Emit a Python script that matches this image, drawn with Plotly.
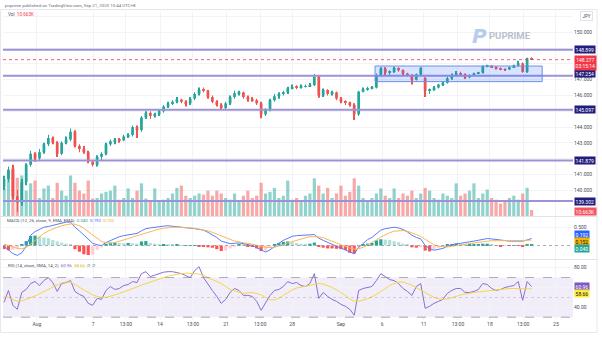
import plotly.graph_objects as go

# ---------------- data ----------------
opens = [140.2, 140.7, 141.3, 139.6, 139.2, 140.5, 141.6, 142.3, 142.0, 142.4,
         142.9, 143.3, 143.0, 142.3, 143.0, 143.2, 143.7, 142.8, 142.6, 142.4,
         141.8, 141.6, 142.1, 142.3, 142.9, 143.1, 143.2, 143.15, 143.4, 143.5,
         144.0, 143.8, 144.6, 144.9, 144.7, 144.8, 145.0, 145.3, 145.5, 145.6,
         145.75, 145.6, 145.5, 145.8, 146.1, 146.35, 146.3, 145.9, 145.6, 145.4,
         145.2, 145.5, 145.9, 146.15, 146.2, 145.9, 145.75, 145.7, 145.5, 144.8,
         145.1, 145.7, 145.95, 146.1, 146.2, 146.45, 146.55, 146.5, 146.55, 146.6,
         146.65, 147.2, 146.0, 146.35, 146.1, 146.2, 145.8, 145.6, 145.55, 145.4,
         144.8, 146.25, 146.4, 146.45, 146.5, 147.3, 147.7, 147.45, 147.5, 147.75,
         147.6, 147.4, 147.3, 147.0, 147.35, 147.1, 146.3, 146.35, 146.5, 146.7,
         146.8, 147.1, 147.3, 147.4, 147.35, 147.15, 147.3, 147.4, 147.45, 147.85,
         147.9, 147.8, 147.72, 147.68, 147.65, 147.8, 147.9, 148.05, 147.5, 148.36]
highs = [140.9, 141.5, 141.6, 140.0, 140.7, 141.7, 142.5, 142.4, 142.6, 143.0,
         143.5, 143.4, 143.1, 143.1, 143.4, 143.9, 143.8, 142.9, 142.8, 142.5,
         141.9, 142.2, 142.4, 143.0, 143.2, 143.3, 143.3, 143.5, 143.6, 144.1,
         144.1, 144.7, 145.0, 145.0, 144.9, 145.1, 145.4, 145.6, 145.7, 145.9,
         145.8, 145.7, 145.9, 146.2, 146.5, 146.5, 146.35, 146.0, 145.7, 145.5,
         145.6, 146.0, 146.3, 146.3, 146.25, 146.0, 145.9, 145.8, 145.6, 145.2,
         145.8, 146.1, 146.2, 146.3, 146.55, 146.7, 146.65, 146.7, 146.7, 146.8,
         147.37, 147.3, 146.45, 146.4, 146.3, 146.25, 145.9, 145.7, 145.6, 145.5,
         146.3, 146.5, 146.55, 146.6, 147.4, 147.8, 147.8, 147.6, 147.82, 147.8,
         147.65, 147.45, 147.35, 147.4, 147.8, 147.15, 146.45, 146.6, 146.75, 146.9,
         147.2, 147.4, 147.55, 147.5, 147.4, 147.35, 147.45, 147.5, 147.9, 147.95,
         147.92, 147.85, 147.78, 147.72, 147.85, 147.95, 148.2, 148.1, 148.4, 148.42]
lows = [140.0, 140.5, 139.4, 138.6, 139.0, 140.3, 141.5, 141.8, 141.9, 142.3,
        142.8, 142.9, 142.1, 142.2, 142.9, 143.1, 142.7, 142.4, 142.3, 141.7,
        141.5, 141.5, 141.9, 142.2, 142.8, 142.9, 143.0, 143.1, 143.3, 143.4,
        143.3, 143.7, 144.5, 144.5, 144.6, 144.7, 144.9, 145.2, 145.4, 145.5,
        145.5, 145.3, 145.4, 145.7, 146.0, 146.2, 145.8, 145.5, 145.3, 145.1,
        145.1, 145.4, 145.8, 146.0, 145.8, 145.6, 145.6, 145.4, 144.55, 144.7,
        145.0, 145.6, 145.8, 146.0, 146.1, 146.4, 146.4, 146.45, 146.5, 146.55,
        146.6, 145.85, 145.9, 146.0, 146.0, 145.7, 145.5, 145.4, 145.3, 144.45,
        144.7, 146.2, 146.3, 146.4, 146.45, 147.2, 147.3, 147.3, 147.45, 147.5,
        147.3, 147.2, 146.7, 146.95, 147.3, 145.9, 146.1, 146.3, 146.45, 146.6,
        146.75, 147.0, 147.2, 147.25, 147.05, 147.1, 147.25, 147.35, 147.4, 147.8,
        147.75, 147.65, 147.6, 147.6, 147.62, 147.75, 147.85, 147.45, 147.45, 148.25]
closes = [140.7, 141.3, 139.6, 139.2, 140.5, 141.6, 142.3, 142.0, 142.4, 142.9,
          143.3, 143.0, 142.3, 143.0, 143.2, 143.7, 142.8, 142.6, 142.4, 141.8,
          141.6, 142.1, 142.3, 142.9, 143.1, 143.2, 143.15, 143.4, 143.5, 144.0,
          143.8, 144.6, 144.9, 144.7, 144.8, 145.0, 145.3, 145.5, 145.6, 145.75,
          145.6, 145.5, 145.8, 146.1, 146.35, 146.3, 145.9, 145.6, 145.4, 145.2,
          145.5, 145.9, 146.15, 146.2, 145.9, 145.75, 145.7, 145.5, 144.8, 145.1,
          145.7, 145.95, 146.1, 146.2, 146.45, 146.55, 146.5, 146.55, 146.6, 146.65,
          147.2, 146.0, 146.35, 146.1, 146.2, 145.8, 145.6, 145.55, 145.4, 144.8,
          146.25, 146.4, 146.45, 146.5, 147.3, 147.7, 147.45, 147.5, 147.75, 147.6,
          147.4, 147.3, 147.0, 147.35, 147.75, 146.3, 146.35, 146.5, 146.7, 146.8,
          147.1, 147.3, 147.4, 147.35, 147.15, 147.3, 147.4, 147.45, 147.85, 147.9,
          147.8, 147.72, 147.68, 147.65, 147.8, 147.9, 148.05, 147.5, 148.36, 148.277]
volumes_k = [50, 80, 86, 68, 72, 45, 58, 63, 32, 49,
             54, 32, 59, 45, 36, 72, 59, 45, 40, 63,
             31, 32, 40, 43, 45, 54, 29, 32, 49, 32,
             45, 58, 31, 27, 49, 27, 29, 32, 40, 50,
             54, 36, 32, 36, 40, 38, 45, 36, 45, 40,
             32, 29, 40, 27, 36, 45, 32, 36, 59, 40,
             43, 50, 32, 36, 63, 29, 32, 27, 36, 40,
             67, 54, 40, 50, 32, 40, 54, 36, 43, 67,
             54, 32, 27, 32, 40, 49, 36, 32, 49, 32,
             40, 36, 45, 32, 40, 50, 45, 32, 29, 40,
             36, 32, 58, 36, 40, 45, 58, 32, 40, 47,
             32, 29, 22, 25, 32, 36, 29, 40, 50, 10.663]
macd_line = [-0.02, -0.12, -0.22, -0.27, -0.20, -0.02, 0.28, 0.38, 0.45, 0.50,
             0.52, 0.55, 0.58, 0.62, 0.64, 0.64, 0.50, 0.40, 0.28, 0.18,
             0.06, 0.02, 0.00, 0.08, 0.14, 0.20, 0.24, 0.27, 0.29, 0.31,
             0.33, 0.40, 0.46, 0.48, 0.50, 0.53, 0.53, 0.54, 0.53, 0.52,
             0.51, 0.49, 0.48, 0.46, 0.44, 0.42, 0.36, 0.30, 0.22, 0.12,
             0.08, 0.05, 0.06, 0.07, 0.05, 0.02, 0.00, -0.06, -0.13, -0.18,
             -0.12, -0.02, 0.06, 0.14, 0.20, 0.25, 0.27, 0.27, 0.27, 0.29,
             0.30, 0.20, 0.14, 0.08, 0.04, -0.02, -0.07, -0.12, -0.19, -0.23,
             -0.05, 0.06, 0.16, 0.22, 0.32, 0.42, 0.46, 0.48, 0.50, 0.48,
             0.44, 0.37, 0.28, 0.22, 0.18, 0.00, -0.08, -0.13, -0.10, -0.08,
             -0.02, 0.02, 0.05, 0.06, 0.07, 0.10, 0.12, 0.14, 0.17, 0.19,
             0.18, 0.16, 0.14, 0.13, 0.12, 0.12, 0.12, 0.12, 0.15, 0.192]
macd_signal = [0.04, 0.00, -0.05, -0.08, -0.09, -0.06, 0.04, 0.14, 0.24, 0.33,
               0.40, 0.46, 0.50, 0.54, 0.57, 0.59, 0.58, 0.54, 0.47, 0.38,
               0.28, 0.19, 0.11, 0.07, 0.06, 0.08, 0.11, 0.15, 0.19, 0.23,
               0.27, 0.31, 0.35, 0.39, 0.42, 0.45, 0.47, 0.49, 0.50, 0.50,
               0.50, 0.49, 0.48, 0.47, 0.45, 0.43, 0.40, 0.36, 0.31, 0.25,
               0.20, 0.15, 0.12, 0.10, 0.08, 0.06, 0.04, 0.01, -0.03, -0.05,
               -0.06, -0.05, -0.02, 0.02, 0.07, 0.11, 0.15, 0.18, 0.21, 0.24,
               0.25, 0.24, 0.21, 0.17, 0.12, 0.07, 0.02, -0.03, -0.07, -0.10,
               -0.09, -0.05, 0.01, 0.07, 0.15, 0.23, 0.30, 0.35, 0.39, 0.41,
               0.41, 0.39, 0.35, 0.30, 0.25, 0.17, 0.09, 0.02, -0.02, -0.04,
               -0.04, -0.02, 0.00, 0.02, 0.04, 0.06, 0.08, 0.10, 0.11, 0.12,
               0.13, 0.13, 0.13, 0.13, 0.13, 0.13, 0.13, 0.13, 0.14, 0.152]
macd_hist = [-0.10, -0.13, -0.12, -0.08, 0.04, 0.12, 0.26, 0.27, 0.25, 0.22,
             0.20, 0.15, 0.11, 0.08, 0.05, 0.03, -0.10, -0.17, -0.24, -0.26,
             -0.25, -0.12, -0.05, 0.04, 0.08, 0.08, 0.07, 0.06, 0.07, 0.06,
             0.05, 0.11, 0.12, 0.07, 0.05, 0.04, 0.04, 0.03, 0.02, 0.02,
             0.01, 0.01, 0.01, 0.01, -0.02, -0.04, -0.05, -0.06, -0.10, -0.15,
             -0.14, -0.08, -0.04, 0.03, 0.02, -0.02, -0.04, -0.08, -0.15, -0.14,
             -0.06, 0.03, 0.07, 0.10, 0.11, 0.09, 0.07, 0.05, 0.04, 0.05,
             0.08, -0.04, -0.06, -0.08, -0.08, -0.09, -0.10, -0.12, -0.20, -0.22,
             -0.06, 0.02, 0.05, 0.07, 0.14, 0.17, 0.16, 0.15, 0.12, 0.09,
             0.05, 0.02, -0.05, -0.06, -0.05, -0.14, -0.16, -0.10, -0.06, -0.03,
             0.02, 0.04, 0.05, 0.04, 0.03, 0.04, 0.04, 0.04, 0.05, 0.05,
             0.02, -0.01, -0.02, -0.01, -0.01, 0.01, -0.01, -0.04, 0.02, 0.040]
rsi_line = [45, 57, 42, 38, 55, 58, 64, 66, 62, 67,
            70, 65, 56, 64, 65, 67, 56, 53, 51, 44,
            42, 49, 48, 57, 61, 58, 59, 62, 63, 66,
            65, 74, 76, 71, 72.5, 74, 75.5, 76, 76, 75,
            74, 72, 70, 77, 81, 70, 63, 57, 51, 44,
            48, 55, 59, 57, 52, 52, 51, 46, 37, 44,
            52, 57, 58, 61, 66, 64, 65, 62, 61, 64,
            74, 49, 55, 51, 48, 46, 43, 41, 38, 32,
            57, 59, 60, 61, 67, 74, 71, 68, 67, 64,
            59, 56, 52, 61, 64, 39, 41, 44, 46, 48,
            54, 57, 59, 59, 55, 55, 56, 58, 64, 63,
            59, 57, 58, 60, 61, 62, 66, 47, 66, 60.96]
rsi_ma = [50.5, 50, 48, 46, 46.5, 48, 49.5, 51.5, 53.5, 56,
          58.5, 60.5, 62.5, 64.5, 65.5, 65.5, 63, 60, 57.5, 55,
          52.5, 51, 50, 50, 51, 52.5, 54, 55.5, 57, 58.5,
          60.5, 62.5, 64, 66, 67.5, 69, 70, 71.5, 72.5, 73.5,
          74, 74.5, 74.5, 74, 73.5, 72.5, 70, 68, 66, 64,
          61, 58, 56.5, 55, 54, 54.5, 55, 54, 52.5, 50,
          47.5, 47.5, 49, 52, 55, 57.5, 59.5, 60.5, 61.5, 62.5,
          63.5, 64, 63.5, 62, 60, 57.5, 55, 52, 48.5, 46,
          46, 47, 48.5, 50.5, 53, 56, 59, 62, 64, 65.5,
          65.5, 64, 62.5, 60, 57.5, 55, 52, 50, 48.5, 48,
          48.5, 49.5, 51, 52.5, 53.5, 54.5, 55, 55.5, 56, 57,
          57.5, 57.5, 58, 58.5, 59, 59, 59, 58.5, 58.5, 58.66]

tick_labels = ["Aug", "7", "13:00", "14", "13:00", "21", "13:00", "28",
               "Sep", "6", "11", "13:00", "18", "13:00", "25"]
tick_bars = [7.4, 20.1, 27.5, 35.2, 42.6, 50.1, 57.8, 65.0,
             76.0, 85.3, 94.7, 102.4, 109.6, 117.1, 124.5]
levels = [148.899, 147.254, 145.097, 141.879, 139.302]
box_bars = [83.7, 121.4]
box_prices = [146.88, 147.87]
last_price = 148.277
countdown = "03:15:14"
price_ticks = [140, 141, 142, 143, 144, 145, 146, 147, 148, 149, 150, 151]
price_ticks_shown = [140, 141, 143, 144, 146, 147, 150]
title_text = "puprime published on TradingView.com, Sep 21, 2023 10:44 UTC+8"

bars = list(range(len(closes)))

# ---------------- layout helpers (pixel geometry) ----------------
W, H = 602, 337
PL, PR, PT, PB = 3, 573, 12, 320


def fx(px):
    return (px - PL) / (PR - PL)


def fy(py):
    return (PB - py) / (PB - PT)


UP, DOWN = "#26a69a", "#ef5350"
FONT = "Roboto"

is_up = [c >= o for o, c in zip(opens, closes)]
candle_colors = [UP if u else DOWN for u in is_up]
vol_colors = ["rgba(38,166,154,0.5)" if u else "rgba(239,83,80,0.5)" for u in is_up]
hist_colors = []
prev = 0.0
for h in macd_hist:
    if h >= 0:
        hist_colors.append("#26a69a" if h >= prev else "#b2dfdb")
    else:
        hist_colors.append("#ff5252" if h <= prev else "#ffcdd2")
    prev = h

body_base = [min(o, c) for o, c in zip(opens, closes)]
body_len = [max(abs(c - o), 0.03) for o, c in zip(opens, closes)]
wick_len = [h - l for h, l in zip(highs, lows)]

fig = go.Figure()

fig.add_trace(go.Bar(x=bars, y=volumes_k, marker=dict(color=vol_colors, line=dict(width=0)),
                     width=0.72, xaxis="x", yaxis="y4", hoverinfo="skip"))
fig.add_trace(go.Bar(x=bars, y=wick_len, base=lows, width=0.13,
                     marker=dict(color=candle_colors, line=dict(width=0)), xaxis="x", yaxis="y"))
fig.add_trace(go.Bar(x=bars, y=body_len, base=body_base, width=0.62,
                     marker=dict(color=candle_colors, line=dict(width=0)), xaxis="x", yaxis="y"))

fig.add_trace(go.Bar(x=bars, y=macd_hist, marker=dict(color=hist_colors, line=dict(width=0)),
                     width=0.72, xaxis="x2", yaxis="y2"))
fig.add_trace(go.Scatter(x=bars, y=macd_line, mode="lines", line=dict(color="#5b7cfa", width=1),
                         xaxis="x2", yaxis="y2"))
fig.add_trace(go.Scatter(x=bars, y=macd_signal, mode="lines", line=dict(color="#f7b955", width=1),
                         xaxis="x2", yaxis="y2"))

fig.add_trace(go.Scatter(x=bars, y=rsi_line, mode="lines", line=dict(color="#8a6fd1", width=1),
                         xaxis="x3", yaxis="y3"))
fig.add_trace(go.Scatter(x=bars, y=rsi_ma, mode="lines", line=dict(color="#f5d547", width=1),
                         xaxis="x3", yaxis="y3"))

XR = [-0.23, 128.35]
grid = "#f2f3f7"
axfont = dict(family=FONT, size=5, color="#4a4e59")
xcommon = dict(range=XR, tickvals=tick_bars, ticktext=tick_labels, showgrid=True,
               gridcolor=grid, gridwidth=1, zeroline=False, showline=False, ticks="",
               fixedrange=True, domain=[0, 1])

shapes = []
for lv in levels:
    shapes.append(dict(type="line", xref="paper", yref="y", x0=0, x1=1, y0=lv, y1=lv,
                       line=dict(color="#9d92d8", width=2), layer="above"))
shapes.append(dict(type="rect", xref="x", yref="y", x0=box_bars[0], x1=box_bars[1],
                   y0=box_prices[0], y1=box_prices[1], fillcolor="rgba(41,98,255,0.18)",
                   line=dict(color="#6f8fe8", width=1), layer="above"))
shapes.append(dict(type="line", xref="paper", yref="y", x0=0, x1=1, y0=last_price, y1=last_price,
                   line=dict(color="#f23645", width=0.8, dash="dot")))
shapes.append(dict(type="line", xref="paper", yref="y2", x0=0, x1=1, y0=0, y1=0,
                   line=dict(color="#9598a1", width=0.8, dash="dot")))
shapes.append(dict(type="rect", xref="paper", yref="y3", x0=0, x1=1, y0=30, y1=70,
                   fillcolor="rgba(126,87,194,0.10)", line=dict(width=0), layer="below"))
for lvl, dash, op in [(70, "dash", 0.8), (30, "dash", 0.8), (50, "dot", 0.4)]:
    shapes.append(dict(type="line", xref="paper", yref="y3", x0=0, x1=1, y0=lvl, y1=lvl,
                       line=dict(color="#787b86", width=0.8, dash=dash), opacity=op))
for py in [216.5, 259.5]:
    shapes.append(dict(type="line", xref="paper", yref="paper", x0=fx(0), x1=fx(597),
                       y0=fy(py), y1=fy(py), line=dict(color="#e0e3eb", width=1)))
shapes.append(dict(type="rect", xref="paper", yref="paper", x0=fx(0.5), x1=fx(597),
                   y0=fy(9.5), y1=fy(332.5), line=dict(color="#e6e8ee", width=1)))

ann = []


def label(text, yref, yv, bg, fc="white", yshift=0):
    ann.append(dict(text=text, xref="paper", yref=yref, x=1, y=yv, xanchor="left",
                    yanchor="middle", xshift=1, yshift=yshift, showarrow=False,
                    bgcolor=bg, borderpad=0.6, font=dict(family=FONT, size=5, color=fc),
                    align="center"))


label(f"{levels[0]:.3f}", "y", levels[0], "#231d7e")
label(f"{levels[1]:.3f}", "y", levels[1], "#231d7e", yshift=2)
label(f"{levels[2]:.3f}", "y", levels[2], "#231d7e")
label(f"{levels[3]:.3f}", "y", levels[3], "#231d7e")
label(f"{levels[4]:.3f}", "y", levels[4], "#231d7e")
label(f"{last_price:.3f}<br>{countdown}", "y", last_price, "#f23645", yshift=-3)
label(f"{volumes_k[-1]:.3f}K", "y4", volumes_k[-1], "#f7525f", yshift=-1)
label(f"{macd_line[-1]:.3f}", "y2", macd_line[-1], "#2962ff", yshift=4)
label(f"{macd_signal[-1]:.3f}", "y2", macd_signal[-1], "#f5b400", fc="#131722", yshift=-1.6)
label(f"{macd_hist[-1]:.3f}", "y2", macd_hist[-1], "#26a69a", yshift=-4.6)
label(f"{rsi_line[-1]:.2f}", "y3", rsi_line[-1], "#7e57c2")
label(f"{rsi_ma[-1]:.2f}", "y3", rsi_ma[-1], "#ffeb3b", fc="#131722", yshift=-4.8)


def text(t, px, py, size, color, xanchor="left", family=FONT, **kw):
    ann.append(dict(text=t, xref="paper", yref="paper", x=fx(px), y=fy(py), xanchor=xanchor,
                    yanchor="middle", showarrow=False,
                    font=dict(family=family, size=size, color=color), **kw))


text("JPY", 586, 16, 4.5, "#4a4e59", xanchor="center", bordercolor="#e0e3eb",
     borderwidth=1, borderpad=1.5, bgcolor="white")
text(title_text, 3, 5, 4.4, "#6a6d78")
text(f"Vol  <span style='color:#f23645'>{volumes_k[-1]:.3f}K</span>", 6, 15, 4.6, "#4a4e59")
text("MACD (12, 26, close, 9, EMA, EMA)  "
     f"<span style='color:#26a69a'>{macd_hist[-1]:.3f}</span>  "
     f"<span style='color:#2962ff'>{macd_line[-1]:.3f}</span>  "
     f"<span style='color:#f5a000'>{macd_signal[-1]:.3f}</span>", 5, 220.5, 4.4, "#4a4e59")
text("RSI (14, close, SMA, 14, 2)  "
     f"<span style='color:#7e57c2'>{rsi_line[-1]:.2f}</span>  "
     f"<span style='color:#e0b800'>{rsi_ma[-1]:.2f}</span>  ∅  ∅", 6, 265, 4.4, "#4a4e59")
text("<b><i>P</i></b>", 479, 36, 20, "#b7cdf0", xanchor="center", family="DejaVu Sans")
text("<b>PUPRIME</b>", 510, 35, 9.5, "#b9c1cd", xanchor="center")

fig.update_layout(
    width=W, height=H, margin=dict(l=PL, r=W - PR, t=PT, b=H - PB),
    paper_bgcolor="white", plot_bgcolor="white", showlegend=False, barmode="overlay",
    font=dict(family=FONT, size=5, color="#4a4e59"),
    xaxis=dict(**xcommon, anchor="y", showticklabels=False),
    xaxis2=dict(**xcommon, anchor="y2", matches="x", showticklabels=False),
    xaxis3=dict(**xcommon, anchor="y3", matches="x", showticklabels=True, tickfont=axfont),
    yaxis=dict(domain=[fy(216), 1], range=[138.35, 151.30], side="right", tickvals=price_ticks,
               ticktext=[f"{t:.3f}" if t in price_ticks_shown else "" for t in price_ticks],
               showgrid=True, gridcolor=grid, zeroline=False, ticks="", tickfont=axfont,
               fixedrange=True),
    yaxis4=dict(domain=[fy(216), 1], range=[0, 362.5], overlaying="y", visible=False,
                anchor="x", fixedrange=True),
    yaxis2=dict(domain=[fy(259), fy(217)], range=[-0.369, 0.779], side="right", tickvals=[0.5],
                ticktext=["0.500"], showgrid=True, gridcolor=grid, zeroline=False, ticks="",
                tickfont=axfont, anchor="x2", fixedrange=True),
    yaxis3=dict(domain=[0, fy(260)], range=[27.17, 87.78], side="right", tickvals=[40, 60, 80],
                ticktext=["40.00", "", "80.00"], showgrid=True, gridcolor=grid, zeroline=False,
                ticks="", tickfont=axfont, anchor="x3", fixedrange=True),
    shapes=shapes, annotations=ann, hovermode=False,
)

fig.write_html("out.html")
